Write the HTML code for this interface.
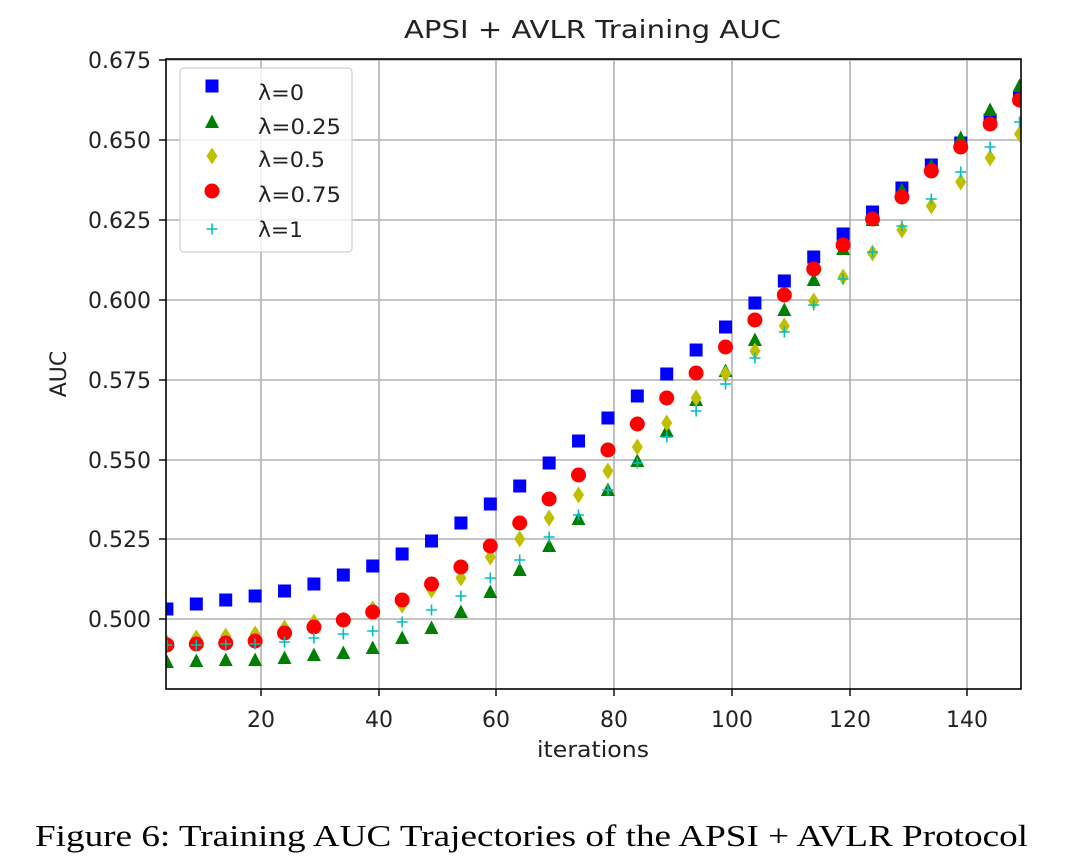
<!DOCTYPE html>
<html><head><meta charset="utf-8"><style>
html,body{margin:0;padding:0;background:#fff;width:1077px;height:868px;overflow:hidden}
svg text{font-family:"DejaVu Sans","Liberation Sans",sans-serif}
</style></head><body>
<svg id="s" width="1077" height="868" xmlns="http://www.w3.org/2000/svg">
<g stroke="#b0b0b0" stroke-width="1.6">
<line x1="261" y1="59" x2="261" y2="689"/><line x1="379" y1="59" x2="379" y2="689"/><line x1="496" y1="59" x2="496" y2="689"/><line x1="614" y1="59" x2="614" y2="689"/><line x1="732" y1="59" x2="732" y2="689"/><line x1="850" y1="59" x2="850" y2="689"/><line x1="967" y1="59" x2="967" y2="689"/>
<line x1="166" y1="60" x2="1021" y2="60"/><line x1="166" y1="140" x2="1021" y2="140"/><line x1="166" y1="220" x2="1021" y2="220"/><line x1="166" y1="300" x2="1021" y2="300"/><line x1="166" y1="380" x2="1021" y2="380"/><line x1="166" y1="460" x2="1021" y2="460"/><line x1="166" y1="539" x2="1021" y2="539"/><line x1="166" y1="619" x2="1021" y2="619"/>
</g>
<g id="pts"></g>
<rect x="166" y="59" width="855" height="630" fill="none" stroke="#000" stroke-width="1.6"/>
<g stroke="#000" stroke-width="1.4">
<line x1="261" y1="689" x2="261" y2="696"/><line x1="379" y1="689" x2="379" y2="696"/><line x1="496" y1="689" x2="496" y2="696"/><line x1="614" y1="689" x2="614" y2="696"/><line x1="732" y1="689" x2="732" y2="696"/><line x1="850" y1="689" x2="850" y2="696"/><line x1="967" y1="689" x2="967" y2="696"/>
<line x1="159" y1="60" x2="166" y2="60"/><line x1="159" y1="140" x2="166" y2="140"/><line x1="159" y1="220" x2="166" y2="220"/><line x1="159" y1="300" x2="166" y2="300"/><line x1="159" y1="380" x2="166" y2="380"/><line x1="159" y1="460" x2="166" y2="460"/><line x1="159" y1="539" x2="166" y2="539"/><line x1="159" y1="619" x2="166" y2="619"/>
</g>
<g font-size="22" fill="#222" text-anchor="middle">
<text x="261" y="727">20</text><text x="379" y="727">40</text><text x="496" y="727">60</text><text x="614" y="727">80</text><text x="732" y="727">100</text><text x="850" y="727">120</text><text x="967" y="727">140</text>
</g>
<g font-size="22" fill="#222" text-anchor="end">
<text x="151" y="68">0.675</text><text x="151" y="148">0.650</text><text x="151" y="228">0.625</text><text x="151" y="308">0.600</text><text x="151" y="388">0.575</text><text x="151" y="468">0.550</text><text x="151" y="547">0.525</text><text x="151" y="627">0.500</text>
</g>
<text x="537" y="757" font-size="22" fill="#222" textLength="112" lengthAdjust="spacingAndGlyphs">iterations</text>
<text x="66" y="374" font-size="22" fill="#222" text-anchor="middle" transform="rotate(-90 66 374)">AUC</text>
<text x="404" y="38" font-size="25" fill="#222" textLength="377" lengthAdjust="spacingAndGlyphs">APSI + AVLR Training AUC</text>
<rect x="180" y="68" width="172" height="184" rx="4" fill="#fff" fill-opacity="0.8" stroke="#d0d0d0" stroke-width="1.2"/>
<g id="leg"></g>
<g font-size="21" fill="#222">
<text x="258" y="100" textLength="46" lengthAdjust="spacingAndGlyphs">λ=0</text><text x="258" y="134" textLength="83" lengthAdjust="spacingAndGlyphs">λ=0.25</text><text x="258" y="167" textLength="67" lengthAdjust="spacingAndGlyphs">λ=0.5</text><text x="258" y="202" textLength="83" lengthAdjust="spacingAndGlyphs">λ=0.75</text><text x="258" y="237" textLength="45" lengthAdjust="spacingAndGlyphs">λ=1</text>
</g>
<text x="35" y="846" font-size="31" fill="#000" textLength="993" lengthAdjust="spacingAndGlyphs" style="font-family:'Liberation Serif',serif">Figure 6: Training AUC Trajectories of the APSI + AVLR Protocol</text>
</svg>
<script>
var X=[];for(var k=0;k<30;k++)X.push(143.4+5.88*(4+5*k));
var B=[609,604,600,596,591,584,575,566,554,541,523,504,486,463,441,418,396,374,350,327,303,281,257,234,212,188,165,143,120,98];
var G=[662,661,660,660,658,655,653,648,638,628,612,592,570,546,519,490,461,431,400,371,340,310,280,249,220,190,166,138,110,86];
var Y=[643,638,636,634,628,622,620,609,605,590,578,557,539,518,495,471,447,423,398,374,351,326,301,277,253,230,206,182,158,134];
var R=[645,644,643,641,633,627,620,612,600,584,567,546,523,499,475,450,424,398,373,347,320,295,269,245,219,197,171,147,124,100];
var C=[645,645,644,644,642,638,634,631,622,610,596,578,560,537,515,490,463,437,411,384,358,332,305,279,252,226,199,172,147,122];
var h='';
function sq(x,y){return '<rect x="'+(x-6.5)+'" y="'+(y-6.5)+'" width="13" height="13" fill="#0000ff"/>';}
function tr(x,y){return '<polygon points="'+x+','+(y-7.5)+' '+(x-7)+','+(y+6)+' '+(x+7)+','+(y+6)+'" fill="#008000"/>';}
function di(x,y){return '<polygon points="'+x+','+(y-8.5)+' '+(x+5.5)+','+y+' '+x+','+(y+8.5)+' '+(x-5.5)+','+y+'" fill="#bfbf00"/>';}
function ci(x,y){return '<circle cx="'+x+'" cy="'+y+'" r="7.5" fill="#ff0000"/>';}
function pl(x,y){return '<path d="M'+(x-5.5)+' '+y+'H'+(x+5.5)+'M'+x+' '+(y-5.5)+'V'+(y+5.5)+'" stroke="#00bfbf" stroke-width="1.6"/>';}
for(var i=0;i<30;i++){h+=sq(X[i],B[i]);}
for(var i=0;i<30;i++){h+=tr(X[i],G[i]);}
for(var i=0;i<30;i++){h+=di(X[i],Y[i]);}
for(var i=0;i<30;i++){h+=ci(X[i],R[i]);}
for(var i=0;i<30;i++){h+=pl(X[i],C[i]);}
h='<clipPath id="cp"><rect x="166" y="59" width="855" height="630"/></clipPath><g clip-path="url(#cp)">'+h+'</g>';
document.getElementById('pts').innerHTML=h;
document.getElementById('leg').innerHTML=sq(212,86)+tr(212,122)+di(212,156)+ci(212,191)+pl(212,229);
</script>
</body></html>
